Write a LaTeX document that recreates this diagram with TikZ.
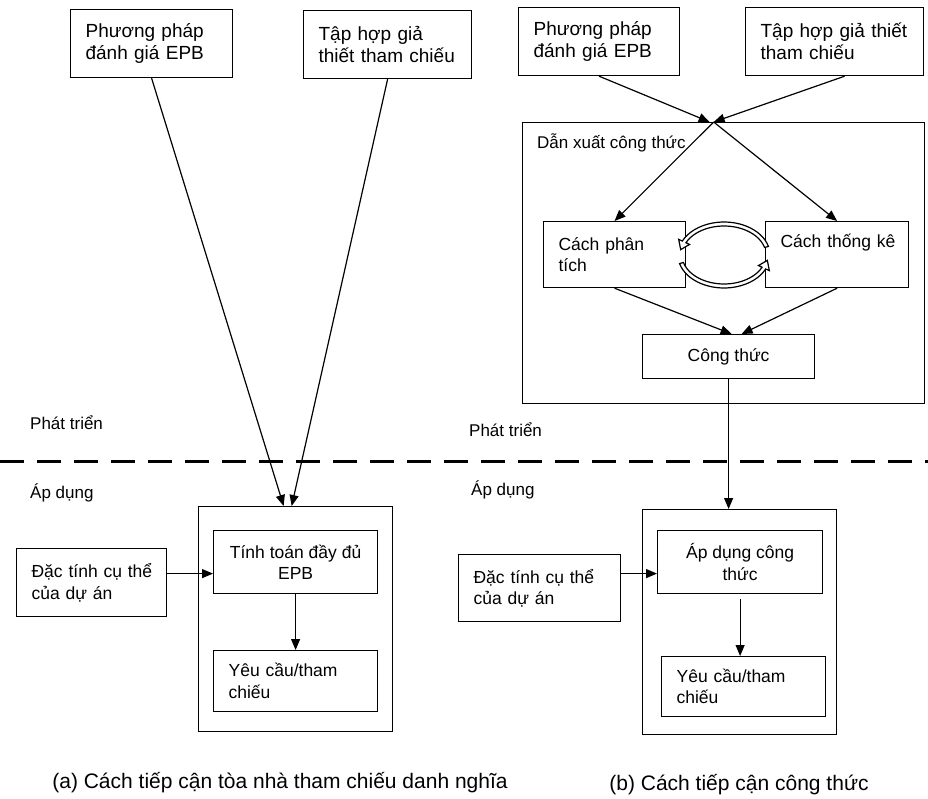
\documentclass[tikz,border=0pt]{standalone}
\usepackage{fontspec}
\setmainfont{Liberation Sans}
\usetikzlibrary{arrows.meta,calc}
\tikzset{
  bx/.style={draw, line width=1.2pt, rectangle, anchor=north west, inner xsep=15pt, inner ysep=0pt, align=left, font=\fontsize{17.5}{21.5}\selectfont},
  cbx/.style={draw, line width=1.2pt, rectangle, anchor=north west, inner xsep=4pt, inner ysep=0pt, align=center, font=\fontsize{17.5}{21.5}\selectfont},
  big/.style={font=\fontsize{19}{22}\selectfont},
  outerbox/.style={draw, line width=1.3pt, rectangle, anchor=north west, inner sep=0pt},
  arr/.style={line width=1.2pt, -{Triangle[length=11pt,width=9pt]}},
  lbl/.style={anchor=west, inner sep=0pt, font=\fontsize{17}{20}\selectfont},
  captxt/.style={inner sep=0pt, font=\fontsize{21}{24}\selectfont},
  cyc/.style={draw, fill=white, line width=1.2pt},
}
\begin{document}
\begin{tikzpicture}[x=1pt,y=-1pt]
\useasboundingbox[fill=white] (0,0) rectangle (928,799);

% ---------- (a) ----------
\node[bx, big, text width=132pt, minimum height=68pt] (A1) at (70,9) {\mbox{Phương pháp}\\\mbox{đánh giá EPB}};
\node[bx, big, text width=138pt, minimum height=68pt] (A2) at (303,10) {\mbox{Tập hợp giả}\\\mbox{thiết tham chiếu}};
\node[outerbox, minimum width=194pt, minimum height=225pt] (A3) at (198,506) {};
\node[cbx, minimum width=164pt, minimum height=63pt] (TT) at (213,530) {Tính toán đầy đủ\\EPB};
\node[bx, text width=134pt, minimum height=61pt] (YA) at (213,650) {\mbox{Yêu cầu/tham}\\chiếu};
\node[bx, text width=120pt, minimum height=68pt] (DA) at (16,548) {\mbox{Đặc tính cụ thể}\\\mbox{của dự án}};

\node[lbl] (PTa) at (30,423) {Phát triển};
\node[lbl] (ADa) at (30,493) {Áp dụng};
\node[captxt] (CAPa) at (280,783) {(a) Cách tiếp cận tòa nhà tham chiếu danh nghĩa};

\draw[arr] (A1.south) -- ([xshift=-12pt]A3.north);
\draw[arr] (A2.south) -- ([xshift=-4pt]A3.north);
\draw[arr] (TT.south) -- (YA.north);
\coordinate (pa) at ([yshift=9pt]DA.east);
\draw[arr] (pa) -- (pa -| TT.west);

% ---------- (b) ----------
\node[bx, big, text width=131pt, minimum height=68pt] (B1) at (518,7) {\mbox{Phương pháp}\\\mbox{đánh giá EPB}};
\node[bx, big, text width=148pt, minimum height=68pt] (B2) at (745,7) {\mbox{Tập hợp giả thiết}\\\mbox{tham chiếu}};
\node[outerbox, minimum width=402pt, minimum height=281pt] (D) at (522,122) {};
\node[lbl, anchor=west] (DX) at (537,143) {Dẫn xuất công thức};
\node[bx, text width=112pt, minimum height=66pt] (CPT) at (543,221) {\mbox{Cách phân}\\tích};
\node[bx, text width=113pt, minimum height=66pt] (CTK) at (765,221) {\mbox{Cách thống kê}\\\strut};
\node[cbx, minimum width=172pt, minimum height=44pt] (CT) at (642,334) {Công thức};
\node[outerbox, minimum width=194pt, minimum height=225pt] (B3) at (642,509) {};
\node[cbx, minimum width=165pt, minimum height=63pt] (AD) at (657,530) {Áp dụng công\\thức};
\node[bx, text width=134pt, minimum height=60pt] (YB) at (661,656) {\mbox{Yêu cầu/tham}\\chiếu};
\node[bx, text width=132pt, minimum height=67pt] (DB) at (458,554) {\mbox{Đặc tính cụ thể}\\\mbox{của dự án}};

\node[lbl] (PTb) at (469,430) {Phát triển};
\node[lbl] (ADb) at (471,490) {Áp dụng};
\node[captxt] (CAPb) at (739,785) {(b) Cách tiếp cận công thức};

\coordinate (hub) at ([xshift=-10pt]D.north);
\draw[arr] (B1.south) -- ([xshift=-14pt]D.north);
\draw[arr] ([xshift=10pt]B2.south) -- (hub);
\draw[arr] (hub) -- (CPT.north);
\draw[arr] (hub) -- (CTK.north);
\draw[arr] (CPT.south) -- ([xshift=3pt]CT.north);
\draw[arr] (CTK.south) -- ([xshift=13pt]CT.north);
\draw[arr] (CT.south) -- (CT.south |- B3.north);
\coordinate (pb) at ([yshift=14.5pt]DB.east);
\draw[arr] (pb) -- (pb -| AD.west);
\draw[arr, shorten <=5pt] (AD.south) -- (AD.south |- YB.north);

% cycle arrows
\coordinate (cc) at (724,255);
\path[cyc] ([shift={(15:46pt and 33pt)}]cc)
  arc[start angle=15, end angle=155, x radius=46pt, y radius=33pt]
  -- ([shift={(155:50pt and 37pt)}]cc)
  -- ([shift={(170:44pt and 31pt)}]cc)
  -- ([shift={(155:38pt and 25pt)}]cc)
  -- ([shift={(155:42pt and 29pt)}]cc)
  arc[start angle=155, end angle=15, x radius=42pt, y radius=29pt]
  -- cycle;
\path[cyc] ([shift={(195:46pt and 33pt)}]cc)
  arc[start angle=195, end angle=335, x radius=46pt, y radius=33pt]
  -- ([shift={(335:50pt and 37pt)}]cc)
  -- ([shift={(350:44pt and 31pt)}]cc)
  -- ([shift={(335:38pt and 25pt)}]cc)
  -- ([shift={(335:42pt and 29pt)}]cc)
  arc[start angle=335, end angle=195, x radius=42pt, y radius=29pt]
  -- cycle;

% separator
\draw[line width=3pt, dash pattern=on 24pt off 13pt] (0,461) -- (928,461);
\end{tikzpicture}
\end{document}
